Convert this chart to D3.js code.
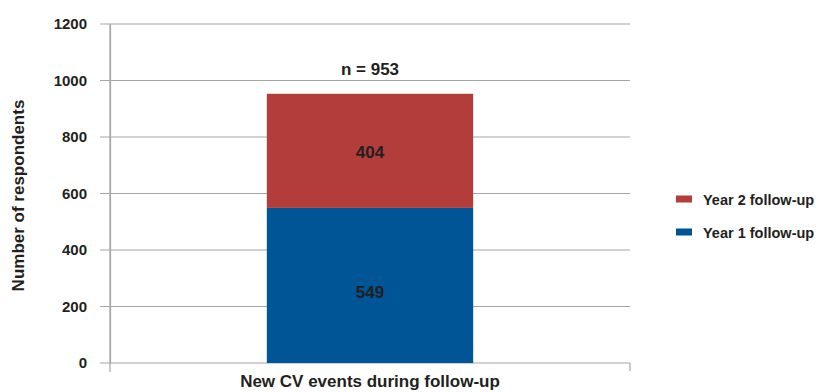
<!DOCTYPE html>
<html>
<head>
<meta charset="utf-8">
<script src="https://cdn.jsdelivr.net/npm/d3@7"></script>
<style>
  body { margin: 0; background: #fff; }
  svg text { font-family: "Liberation Sans", Arial, sans-serif; font-weight: bold; fill: #231f20; }
</style>
</head>
<body>
<svg id="chart"></svg>
<script>
// data
const categories = ["New CV events during follow-up"];
const seriesNames = ["Year 1 follow-up", "Year 2 follow-up"];
const year1Values = [549];
const year2Values = [404];
const totalLabels = ["n = 953"];
const yTicks = [0, 200, 400, 600, 800, 1000, 1200];
const colors = ["#005596", "#b33d3b"];

const width = 822, height = 392;
const margin = {top: 24, right: 192, bottom: 29, left: 110};

const svg = d3.select('#chart')
  .attr('width', width)
  .attr('height', height);

const innerW = width - margin.left - margin.right;
const innerH = height - margin.top - margin.bottom;

const chart = svg.append('g')
  .attr('transform', `translate(${margin.left},${margin.top})`);

const xScale = d3.scaleBand()
  .domain(categories)
  .range([0, innerW])
  .paddingInner(0)
  .paddingOuter(0.76);

const yScale = d3.scaleLinear()
  .domain([0, 1200])
  .range([innerH, 0]);

// gridlines
chart.selectAll('.grid')
  .data(yTicks)
  .join('line')
  .attr('class', 'grid')
  .attr('x1', -10)
  .attr('x2', innerW)
  .attr('y1', d => yScale(d))
  .attr('y2', d => yScale(d))
  .attr('stroke', '#a6a6a6')
  .attr('stroke-width', 1.2);

// y axis
const yAxis = d3.axisLeft(yScale)
  .tickValues(yTicks)
  .tickSize(0)
  .tickPadding(23)
  .tickFormat(d3.format('d'));
const yAxisGroup = chart.append('g').call(yAxis);
yAxisGroup.select('.domain').attr('stroke', '#a6a6a6').attr('stroke-width', 1.2);
yAxisGroup.selectAll('text').style('font-size', '15px').attr('fill', '#231f20');

// x axis ends
chart.append('line')
  .attr('x1', 0).attr('x2', 0)
  .attr('y1', 0).attr('y2', innerH + 9)
  .attr('stroke', '#a6a6a6').attr('stroke-width', 1.2);
chart.append('line')
  .attr('x1', innerW).attr('x2', innerW)
  .attr('y1', innerH).attr('y2', innerH + 8)
  .attr('stroke', '#a6a6a6').attr('stroke-width', 1.2);

// stacked data
const rows = categories.map((c, i) => ({cat: c, y1: year1Values[i], y2: year2Values[i]}));
const stack = d3.stack().keys(['y1', 'y2'])(rows);

chart.selectAll('.layer')
  .data(stack)
  .join('g')
  .attr('fill', (d, i) => colors[i])
  .selectAll('rect')
  .data(d => d)
  .join('rect')
  .attr('x', d => xScale(d.data.cat))
  .attr('width', xScale.bandwidth())
  .attr('y', d => yScale(d[1]))
  .attr('height', d => yScale(d[0]) - yScale(d[1]));

// value labels (bottom label sits a little low, like the original)
stack.forEach((layer, li) => {
  chart.selectAll(null)
    .data(layer)
    .join('text')
    .attr('x', d => xScale(d.data.cat) + xScale.bandwidth() / 2)
    .attr('y', d => (yScale(d[0]) + yScale(d[1])) / 2 + (li === 0 ? 13 : 7))
    .attr('text-anchor', 'middle')
    .style('font-size', '17px')
    .text(d => d[1] - d[0]);
});

// totals
chart.selectAll('.total')
  .data(rows)
  .join('text')
  .attr('x', d => xScale(d.cat) + xScale.bandwidth() / 2)
  .attr('y', d => yScale(d.y1 + d.y2) - 19)
  .attr('text-anchor', 'middle')
  .style('font-size', '17px')
  .text((d, i) => totalLabels[i]);

// x label
chart.append('text')
  .attr('x', xScale(categories[0]) + xScale.bandwidth() / 2)
  .attr('y', innerH + 24)
  .attr('text-anchor', 'middle')
  .style('font-size', '17px')
  .text(categories[0]);

// y title
svg.append('text')
  .attr('transform', `translate(24, ${margin.top + innerH / 2 + 2}) rotate(-90)`)
  .attr('text-anchor', 'middle')
  .style('font-size', '17px')
  .text('Number of respondents');

// legend
const legendItems = seriesNames.map((n, i) => ({name: n, color: colors[i]})).reverse();
const legend = svg.append('g').attr('transform', 'translate(676, 199)');
legendItems.forEach((d, i) => {
  const g = legend.append('g').attr('transform', `translate(0, ${i * 33})`);
  g.append('rect').attr('x', 0).attr('y', -3.5).attr('width', 16).attr('height', 7).attr('fill', d.color);
  g.append('text').attr('x', 27).attr('y', 5.5).style('font-size', '14.5px').text(d.name);
});
</script>
</body>
</html>
